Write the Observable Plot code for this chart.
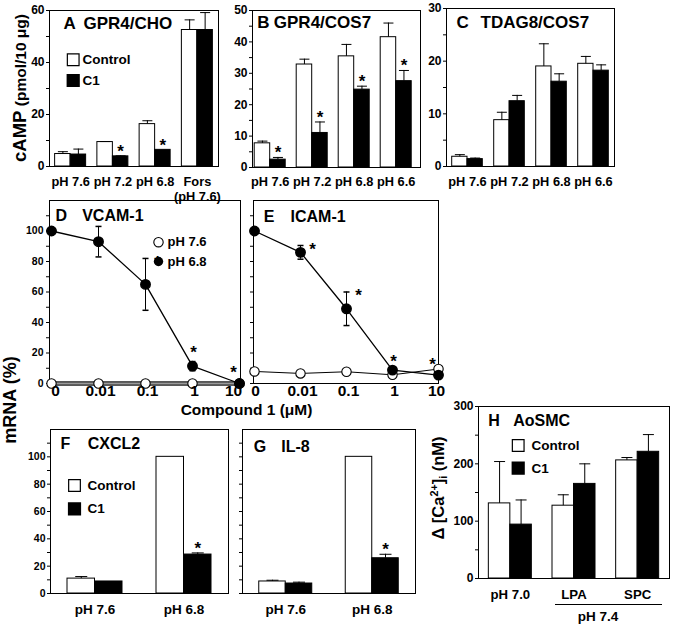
<!DOCTYPE html>
<html><head><meta charset="utf-8">
<script src="https://cdn.jsdelivr.net/npm/d3@7"></script>
<script src="https://cdn.jsdelivr.net/npm/@observablehq/plot@0.6"></script>
<style>
body{margin:0;background:#fff;}
#fig{position:relative;width:674px;height:629px;overflow:hidden;font-family:"Liberation Sans",Arial,sans-serif;font-weight:bold;color:#000;background:#fff;}
#fig svg{position:absolute;overflow:visible;}
.lab{position:absolute;white-space:nowrap;font-weight:bold;line-height:1;}
.rot{transform:translate(-50%,-50%) rotate(-90deg);}
.ctr{transform:translate(-50%,-50%);}
</style></head><body><div id="fig"></div>
<script>
// ---------- DATA ----------
// A: GPR4/CHO (cAMP pmol/10 µg)
const groupsA = ["pH 7.6", "pH 7.2", "pH 6.8", "Fors\n(pH 7.6)"];
const ctrlA = [4.8, 9.4, 16.3, 52.5];
const ctrlErrA = [0.9, 0.2, 1.3, 3.9];
const c1A = [4.6, 3.9, 6.4, 52.5];
const c1ErrA = [2.1, 0.2, 0, 6.7];
const sigA = [false, true, true, false];
// B: GPR4/COS7
const groupsB = ["pH 7.6", "pH 7.2", "pH 6.8", "pH 6.6"];
const ctrlB = [7.7, 32.8, 35.4, 41.5];
const ctrlErrB = [0.7, 1.7, 3.8, 4.5];
const c1B = [2.5, 11.0, 24.8, 27.5];
const c1ErrB = [0.7, 3.5, 1.1, 3.4];
const sigB = [true, true, true, true];
// C: TDAG8/COS7
const groupsC = ["pH 7.6", "pH 7.2", "pH 6.8", "pH 6.6"];
const ctrlC = [1.85, 8.8, 19.0, 19.5];
const ctrlErrC = [0.4, 1.5, 4.3, 1.4];
const c1C = [1.4, 12.4, 16.1, 18.2];
const c1ErrC = [0.2, 1.1, 1.5, 1.1];
const sigC = [false, false, false, false];
// D/E: mRNA (%) vs Compound 1 (µM)
const concs = ["0", "0.01", "0.1", "1", "10"];
const vcam68 = [100, 93, 65, 11.4, 0];
const vcam68Err = [0, 10, 17, 3, 0];
const vcam76 = [0, 0, 0, 0, 0];
const vcamSig = ["", "", "right", "above", "aboveLeft"];
const icam68 = [100, 86, 49, 8.8, 5.5];
const icam68Err = [0, 4.5, 11, 0, 0];
const icam76 = [7.9, 6.6, 7.7, 5.7, 9.5];
const icamSig = ["", "right", "right", "above", "aboveLeft"];
// F: CXCL2, G: IL-8
const groupsFG = ["pH 7.6", "pH 6.8"];
const ctrlF = [10.9, 100];
const ctrlErrF = [1.5, 0];
const c1F = [8.8, 28.5];
const c1ErrF = [0, 1.2];
const sigF = [false, true];
const ctrlG = [8.8, 100];
const ctrlErrG = [0.9, 0];
const c1G = [7.3, 25.8];
const c1ErrG = [1.0, 2.9];
const sigG = [false, true];
// H: AoSMC Δ[Ca2+]i (nM)
const groupsH = ["pH 7.0", "LPA", "SPC"];
const ctrlH = [131, 127, 206];
const ctrlErrH = [73, 19, 5];
const c1H = [94, 165, 221];
const c1ErrH = [43, 35, 30];
const sigH = [false, false, false];
// tick values
const ticksA = [0, 10, 20, 30, 40, 50, 60];
const ticksBC = [0, 5, 10, 15, 20, 25, 30, 35, 40, 45, 50];
const ticksC = [0, 5, 10, 15, 20, 25, 30];
const ticksPct = [0, 10, 20, 30, 40, 50, 60, 70, 80, 90, 100, 110];
const ticksH = [0, 50, 100, 150, 200, 250, 300];
const legendBars = ["Control", "C1"];
const legendPH = ["pH 7.6", "pH 6.8"];

// ---------- DRAWING ----------
const fig = document.getElementById("fig");
const FONT = '"Liberation Sans", Arial, sans-serif';
const cap = {draw(ctx, size) { const w = Math.sqrt(size) / 2; ctx.moveTo(-w, 0); ctx.lineTo(w, 0); }};

function place(svg, left, top) {
  svg.style.left = left + "px";
  svg.style.top = top + "px";
  fig.appendChild(svg);
}

function titleMarks(letter, name, t) {
  return [
    Plot.text([letter], {frameAnchor: "top-left", dx: t.lx, dy: t.y, text: d => d, textAnchor: "start", lineAnchor: "middle", fontSize: t.fs, fontWeight: "bold"}),
    Plot.text([name], {frameAnchor: "top-left", dx: t.nx, dy: t.y, text: d => d, textAnchor: "start", lineAnchor: "middle", fontSize: t.fs, fontWeight: "bold"})
  ];
}

function barLegend(L) {
  if (!L) return [];
  return [
    Plot.dot([0], {frameAnchor: "top-left", dx: L.sx, dy: L.y1, symbol: "square", r: 6.6, fill: "white", stroke: "black", strokeWidth: 1.2}),
    Plot.dot([0], {frameAnchor: "top-left", dx: L.sx, dy: L.y2, symbol: "square", r: 6.6, fill: "black", stroke: "black"}),
    Plot.text([legendBars[0]], {frameAnchor: "top-left", dx: L.tx, dy: L.y1, text: d => d, textAnchor: "start", lineAnchor: "middle", fontSize: 13.5, fontWeight: "bold"}),
    Plot.text([legendBars[1]], {frameAnchor: "top-left", dx: L.tx, dy: L.y2, text: d => d, textAnchor: "start", lineAnchor: "middle", fontSize: 13.5, fontWeight: "bold"})
  ];
}

function barPanel(cfg) {
  const {x0, x1, y0, y1} = cfg.frame;
  const ml = 42, mr = 8, mt = 8, mb = 48;
  const W = x1 - x0, H = y1 - y0;
  const n = cfg.groups.length, bw = W / n, bar = cfg.barW;
  const shift = cfg.shift || 0;
  const ctrlRows = cfg.groups.map((g, i) => ({g, v: cfg.ctrl[i], e: cfg.ctrlErr[i]}));
  const c1Rows = cfg.groups.map((g, i) => ({g, v: cfg.c1[i], e: cfg.c1Err[i], sig: cfg.sig[i]}));
  const capR = cfg.capW / 1.772;
  const errMarks = (rows, dx) => {
    const r = rows.filter(d => d.e > 0);
    return [
      Plot.ruleX(r, {x: "g", y1: "v", y2: d => d.v + d.e, dx, stroke: "black", strokeWidth: 1}),
      Plot.dot(r, {x: "g", y: d => d.v + d.e, dx, symbol: cap, r: capR, stroke: "black", fill: "none", strokeWidth: 1})
    ];
  };
  const svg = Plot.plot({
    width: W + ml + mr, height: H + mt + mb,
    marginLeft: ml, marginRight: mr, marginTop: mt, marginBottom: mb,
    x: {domain: cfg.groups, padding: 0, round: false, axis: null, range: [ml + shift, ml + W + shift]},
    y: {domain: cfg.yDomain, ticks: cfg.yTicks, tickFormat: cfg.yFmt, tickSize: 3, tickPadding: 2, label: null},
    style: {fontFamily: FONT, fontSize: cfg.yFs + "px", fontWeight: "bold", color: "black", background: "transparent", overflow: "visible"},
    marks: [
      Plot.barY(ctrlRows, {x: "g", y: "v", fill: "white", stroke: "black", strokeWidth: 1, insetLeft: bw / 2 - bar, insetRight: bw / 2}),
      Plot.barY(c1Rows, {x: "g", y: "v", fill: "black", stroke: "black", strokeWidth: 1, insetLeft: bw / 2, insetRight: bw / 2 - bar}),
      ...errMarks(ctrlRows, -bar / 2),
      ...errMarks(c1Rows, bar / 2),
      Plot.text(c1Rows.filter(d => d.sig), {x: "g", y: d => d.v + d.e, dx: bar / 2, dy: 1, text: () => "*", fontSize: 17, fontWeight: "bold", lineAnchor: "bottom"}),
      Plot.text(cfg.groups, {x: d => d, frameAnchor: "bottom", dy: cfg.xDy, text: d => d, lineAnchor: "top", fontSize: cfg.xFs, fontWeight: "bold", lineHeight: 1.15}),
      Plot.frame({stroke: "black", strokeWidth: 1}),
      ...titleMarks(cfg.letter, cfg.name, cfg.title),
      ...barLegend(cfg.legend)
    ]
  });
  place(svg, x0 - ml, y0 - mt);
}

function linePanel(cfg) {
  const {x0, x1, y0, y1} = cfg.frame;
  const ml = 42, mr = 14, mt = 12, mb = 30;
  const W = x1 - x0, H = y1 - y0;
  const rows68 = concs.map((c, i) => ({c, v: cfg.v68[i], e: cfg.e68[i], sig: cfg.sig[i]}));
  const rows76 = concs.map((c, i) => ({c, v: cfg.v76[i]}));
  const errRows = rows68.filter(d => d.e > 0);
  const line76 = cfg.thick76
    ? [Plot.line(rows76, {x: "c", y: "v", stroke: "#222", strokeWidth: 4.5}),
       Plot.line(rows76, {x: "c", y: "v", stroke: "#9a9a9a", strokeWidth: 2.2})]
    : [Plot.line(rows76, {x: "c", y: "v", stroke: "black", strokeWidth: 1})];
  const star = (type, dx, dy) => Plot.text(rows68.filter(d => d.sig === type), {x: "c", y: d => d.v + d.e, dx, dy, text: () => "*", fontSize: 17, fontWeight: "bold", lineAnchor: "middle"});
  const last = concs.length - 1;
  const xLab = (subset, dx) => Plot.text(subset, {x: d => d, frameAnchor: "bottom", dx, dy: 1, text: d => d, lineAnchor: "top", fontSize: 15.5, fontWeight: "bold"});
  const svg = Plot.plot({
    width: W + ml + mr, height: H + mt + mb,
    marginLeft: ml, marginRight: mr, marginTop: mt, marginBottom: mb,
    x: {type: "point", domain: concs, padding: 0, axis: null},
    y: {domain: [0, 120], ticks: ticksPct, tickFormat: cfg.yFmt, tickSize: 3, tickPadding: 3, label: null},
    style: {fontFamily: FONT, fontSize: "10.5px", fontWeight: "bold", color: "black", background: "transparent", overflow: "visible"},
    marks: [
      Plot.frame({stroke: "black", strokeWidth: 1}),
      ...line76,
      Plot.line(rows68, {x: "c", y: "v", stroke: "black", strokeWidth: 1.3}),
      Plot.ruleX(errRows, {x: "c", y1: d => d.v - d.e, y2: d => d.v + d.e, stroke: "black", strokeWidth: 1}),
      Plot.dot(errRows, {x: "c", y: d => d.v + d.e, symbol: cap, r: 3.4, stroke: "black", fill: "none"}),
      Plot.dot(errRows, {x: "c", y: d => d.v - d.e, symbol: cap, r: 3.4, stroke: "black", fill: "none"}),
      Plot.dot(rows76, {x: "c", y: "v", r: 4.7, fill: "white", stroke: "black", strokeWidth: 1.1}),
      Plot.dot(rows68, {x: "c", y: "v", r: 4.7, fill: "black", stroke: "black"}),
      star("right", 12, 4),
      star("above", 1, -9),
      star("aboveLeft", -6, -11),
      xLab([concs[0]], cfg.firstDx),
      xLab(concs.slice(1, last), 2),
      xLab([concs[last]], cfg.lastDx),
      ...titleMarks(cfg.letter, cfg.name, cfg.title),
      ...(cfg.legend ? [
        Plot.dot([0], {frameAnchor: "top-left", dx: 109, dy: 41.7, r: 4.7, fill: "white", stroke: "black", strokeWidth: 1.1}),
        Plot.dot([0], {frameAnchor: "top-left", dx: 109, dy: 61, r: 4.7, fill: "black"}),
        Plot.text([legendPH[0]], {frameAnchor: "top-left", dx: 118, dy: 41.7, text: d => d, textAnchor: "start", lineAnchor: "middle", fontSize: 13, fontWeight: "bold"}),
        Plot.text([legendPH[1]], {frameAnchor: "top-left", dx: 118, dy: 61, text: d => d, textAnchor: "start", lineAnchor: "middle", fontSize: 13, fontWeight: "bold"})
      ] : [])
    ]
  });
  place(svg, x0 - ml, y0 - mt);
}

const fmtEvery = step => d => (d % step === 0 ? String(d) : "");
const fmtPct = d => (d % 20 === 0 && d <= 100 ? String(d) : "");
const fmtNone = () => "";

barPanel({groups: groupsA, ctrl: ctrlA, ctrlErr: ctrlErrA, c1: c1A, c1Err: c1ErrA, sig: sigA,
  frame: {x0: 49, x1: 218, y0: 10, y1: 166}, yDomain: [0, 60], yTicks: ticksA, yFmt: fmtEvery(20), yFs: 12,
  barW: 15.5, capW: 10, xDy: 9, xFs: 12.8,
  letter: "A", name: "GPR4/CHO", title: {lx: 14, nx: 34, y: 13, fs: 17},
  legend: {sx: 23.7, tx: 33, y1: 49.3, y2: 70}});

barPanel({groups: groupsB, ctrl: ctrlB, ctrlErr: ctrlErrB, c1: c1B, c1Err: c1ErrB, sig: sigB,
  frame: {x0: 252, x1: 420, y0: 10, y1: 167}, yDomain: [0, 50], yTicks: ticksBC, yFmt: fmtEvery(10), yFs: 12,
  barW: 15.5, capW: 10, xDy: 8, xFs: 12.8, shift: -3.3,
  letter: "B", name: "GPR4/COS7", title: {lx: 4.7, nx: 21.3, y: 11.7, fs: 17}});

barPanel({groups: groupsC, ctrl: ctrlC, ctrlErr: ctrlErrC, c1: c1C, c1Err: c1ErrC, sig: sigC,
  frame: {x0: 446, x1: 614, y0: 8, y1: 166}, yDomain: [0, 30], yTicks: ticksC, yFmt: fmtEvery(10), yFs: 12,
  barW: 15.3, capW: 10, xDy: 9, xFs: 12.8,
  letter: "C", name: "TDAG8/COS7", title: {lx: 10, nx: 34, y: 14, fs: 17}});

linePanel({v68: vcam68, e68: vcam68Err, v76: vcam76, sig: vcamSig, thick76: true, legend: true,
  frame: {x0: 49, x1: 240, y0: 200, y1: 383}, yFmt: fmtPct, firstDx: 4, lastDx: -6,
  letter: "D", name: "VCAM-1", title: {lx: 6, nx: 32.7, y: 15, fs: 16}});

linePanel({v68: icam68, e68: icam68Err, v76: icam76, sig: icamSig, thick76: false, legend: false,
  frame: {x0: 253, x1: 438, y0: 200, y1: 383}, yFmt: fmtNone, firstDx: 1, lastDx: -2,
  letter: "E", name: "ICAM-1", title: {lx: 10.3, nx: 37, y: 16.7, fs: 16}});

barPanel({groups: groupsFG, ctrl: ctrlF, ctrlErr: ctrlErrF, c1: c1F, c1Err: c1ErrF, sig: sigF,
  frame: {x0: 50, x1: 228, y0: 429, y1: 593}, yDomain: [0, 120], yTicks: ticksPct, yFmt: fmtPct, yFs: 10.5,
  barW: 27.5, capW: 12, xDy: 9, xFs: 13.5,
  letter: "F", name: "CXCL2", title: {lx: 10, nx: 37.3, y: 14, fs: 16},
  legend: {sx: 24, tx: 37, y1: 56, y2: 79.3}});

barPanel({groups: groupsFG, ctrl: ctrlG, ctrlErr: ctrlErrG, c1: c1G, c1Err: c1ErrG, sig: sigG,
  frame: {x0: 242, x1: 415, y0: 429, y1: 593}, yDomain: [0, 120], yTicks: ticksPct, yFmt: fmtNone, yFs: 10.5,
  barW: 26.5, capW: 12, xDy: 9, xFs: 13.5,
  letter: "G", name: "IL-8", title: {lx: 11.3, nx: 38.7, y: 17.7, fs: 16}});

barPanel({groups: groupsH, ctrl: ctrlH, ctrlErr: ctrlErrH, c1: c1H, c1Err: c1ErrH, sig: sigH,
  frame: {x0: 478, x1: 669, y0: 406, y1: 578}, yDomain: [0, 300], yTicks: ticksH, yFmt: fmtEvery(100), yFs: 12,
  barW: 21.5, capW: 11, xDy: 10, xFs: 13.2,
  letter: "H", name: "AoSMC", title: {lx: 9.7, nx: 34.7, y: 14, fs: 16},
  legend: {sx: 39.7, tx: 53, y1: 39, y2: 61.7}});

// ---------- OUTER LABELS ----------
function label(html, x, y, cls, size) {
  const d = document.createElement("div");
  d.className = "lab " + cls;
  d.style.left = x + "px";
  d.style.top = y + "px";
  d.style.fontSize = size + "px";
  d.innerHTML = html;
  fig.appendChild(d);
  return d;
}
label('<span style="font-size:18.5px">cAMP</span> (pmol/10 μg)', 20, 88, "rot", 15.5);
label("mRNA (%)", 10, 400, "rot", 18);
label("Compound 1 (μM)", 246.5, 410, "ctr", 15.5);
label('Δ [Ca<span style="font-size:0.65em;vertical-align:0.6em">2+</span>]<span style="font-size:0.65em;vertical-align:-0.3em">i</span> (nM)', 439, 488, "rot", 16.5);
label("pH 7.4", 598, 617, "ctr", 13.5);
const ul = document.createElement("div");
ul.style.cssText = "position:absolute;left:555px;top:604px;width:107px;height:0;border-top:1px solid #000;";
fig.appendChild(ul);
</script>
</body></html>
